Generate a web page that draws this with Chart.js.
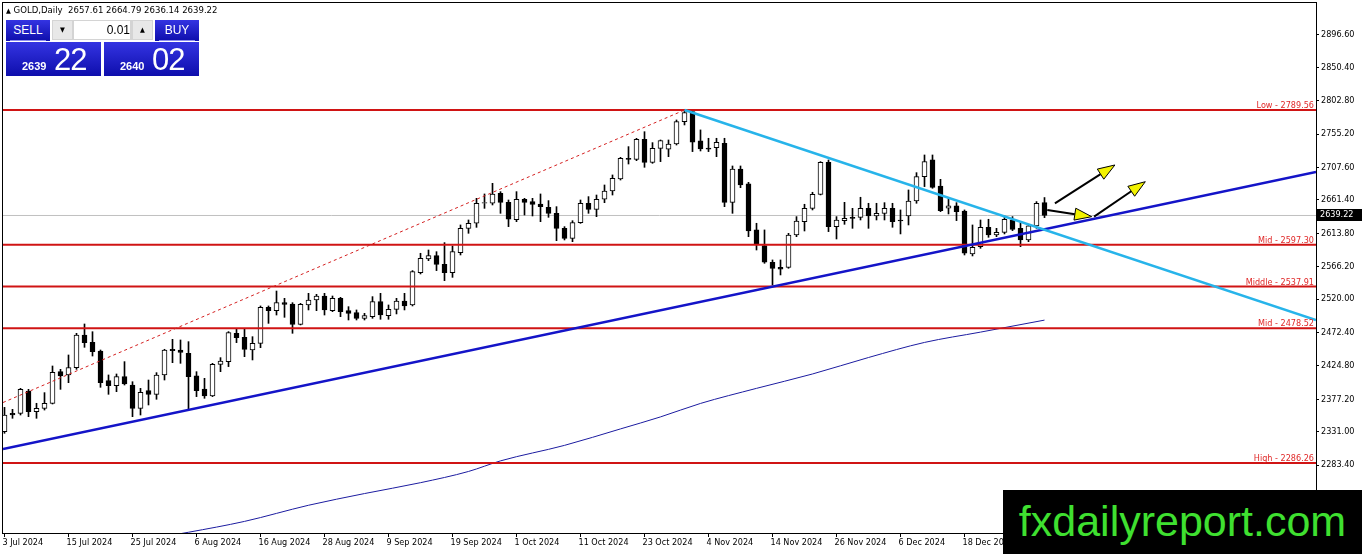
<!DOCTYPE html>
<html>
<head>
<meta charset="utf-8">
<title>GOLD, Daily</title>
<script src="https://cdn.jsdelivr.net/npm/chart.js@4.4.1/dist/chart.umd.min.js"></script>
<style>
  html, body { margin: 0; padding: 0; background: #fff; }
  #wrap { position: relative; width: 1362px; height: 554px; overflow: hidden; }
  #chart { position: absolute; left: 0; top: 0; }
  .ov { position: absolute; font-family: 'DejaVu Sans Condensed', 'DejaVu Sans', sans-serif; }
  #hdr { left: 6px; top: 4px; font-size: 9.5px; color: #000; white-space: pre; line-height: 11px; }
  #hdr .tri { font-size: 7px; }
  .blue { background: linear-gradient(#3434e2, #0e0eac); color: #fff; }
  .btn { top: 20px; height: 21px; width: 44px; text-align: center; font-size: 12px; line-height: 20px;
         font-family: 'Liberation Sans', Arial, sans-serif; }
  .btn:after { content: ''; position: absolute; left: 4px; right: 4px; bottom: 0; height: 1px; background: #8d8df0; }
  #sell { left: 6px; }
  #buy { left: 155px; }
  #spin { left: 52px; top: 20px; width: 101px; height: 20px; background: #d4d4d4; }
  #spin .arr { position: absolute; top: 1px; width: 19px; height: 18px; background: #e8e8e8; font-size: 7px;
               text-align: center; line-height: 18px; color: #000; }
  #spin .lot { position: absolute; left: 22px; top: 1px; width: 56px; height: 18px; background: #fff;
               text-align: right; font-size: 12px; line-height: 18px; color: #000;
               font-family: 'Liberation Sans', Arial, sans-serif; }
  .price { top: 42px; height: 34px; width: 95px; font-family: 'Liberation Sans', Arial, sans-serif; }
  .price .small { position: absolute; left: 16px; bottom: 4px; font-size: 11px; font-weight: bold; }
  .price .big { position: absolute; left: 48px; bottom: -2px; font-size: 31px; letter-spacing: -1px; }
  #psell { left: 6px; }
  #pbuy { left: 104px; }
  #wm { left: 1003px; top: 490px; width: 359px; height: 64px; background: #000; color: #3fe030;
        font-family: 'Liberation Sans', Arial, sans-serif; font-size: 43px; line-height: 62px; text-align: center; }
</style>
</head>
<body>
<div id="wrap">
  <canvas id="chart" width="1362" height="554"></canvas>
  <div id="hdr" class="ov"><span class="tri">▲</span> GOLD,Daily  2657.61 2664.79 2636.14 2639.22</div>
  <div id="sell" class="ov btn blue">SELL</div>
  <div id="spin" class="ov"><div class="arr" style="left:1px">▼</div><div class="lot">0.01</div><div class="arr" style="left:81px">▲</div></div>
  <div id="buy" class="ov btn blue">BUY</div>
  <div id="psell" class="ov price blue"><span class="small">2639</span><span class="big">22</span></div>
  <div id="pbuy" class="ov price blue"><span class="small">2640</span><span class="big">02</span></div>
  <div id="wm" class="ov">fxdailyreport.com</div>
</div>
<script>
'use strict';

// Daily GOLD candles, 3 Jul 2024 onwards (bar index 0 = 3 Jul)

let opens = [
  2331.0, 2357.0, 2357.1, 2388.9, 2359.5, 2364.2, 2371.4, 2416.5, 2411.8, 2422.2,
  2468.8, 2458.3, 2446.0, 2403.7, 2396.5, 2409.4, 2397.5, 2364.2, 2389.4, 2384.2,
  2411.8, 2448.4, 2447.4, 2442.6, 2410.4, 2391.8, 2381.8, 2427.0, 2430.8, 2471.2,
  2465.5, 2447.4, 2456.9, 2508.3, 2503.5, 2514.9, 2513.0, 2484.0, 2511.6, 2518.7,
  2524.4, 2503.5, 2521.1, 2503.5, 2500.7, 2492.6, 2495.0, 2516.3, 2496.4, 2505.4,
  2517.3, 2511.6, 2557.7, 2577.2, 2581.9, 2569.6, 2557.7, 2586.2, 2620.9, 2628.1,
  2656.6, 2656.6, 2670.8, 2658.0, 2633.2, 2662.3, 2658.9, 2655.6, 2650.8, 2642.3,
  2620.9, 2606.6, 2629.0, 2656.6, 2648.0, 2662.3, 2674.1, 2691.3, 2720.7, 2719.3,
  2747.8, 2715.0, 2735.0, 2733.6, 2741.2, 2773.0, 2787.3, 2745.5, 2735.5, 2736.0,
  2742.1, 2658.0, 2705.5, 2684.2, 2618.6, 2596.2, 2572.5, 2565.3, 2565.3, 2611.4,
  2630.4, 2649.4, 2669.4, 2715.0, 2623.3, 2631.9, 2636.6, 2636.6, 2649.5, 2638.5,
  2642.3, 2649.5, 2632.8, 2638.5, 2659.9, 2694.6, 2718.4, 2681.3, 2649.5, 2652.8,
  2645.6, 2584.3, 2594.8, 2622.4, 2611.4, 2615.2, 2632.8, 2620.9, 2604.3, 2624.3,
  2657.61
];
let highs = [
  2365.6, 2362.8, 2392.7, 2391.3, 2371.4, 2386.6, 2424.6, 2419.8, 2440.3, 2471.2,
  2484.5, 2473.5, 2447.4, 2411.8, 2413.2, 2430.8, 2402.2, 2392.7, 2404.6, 2415.1,
  2448.4, 2462.6, 2461.7, 2459.3, 2416.5, 2407.0, 2428.4, 2436.5, 2473.6, 2476.9,
  2478.3, 2466.4, 2510.2, 2510.2, 2531.5, 2521.1, 2514.9, 2513.9, 2528.2, 2526.8,
  2528.2, 2524.4, 2522.5, 2509.2, 2504.5, 2499.7, 2523.5, 2528.2, 2511.6, 2521.1,
  2528.2, 2560.6, 2585.3, 2590.0, 2587.6, 2600.5, 2595.7, 2625.7, 2632.8, 2663.7,
  2669.9, 2685.1, 2673.2, 2661.3, 2673.2, 2663.7, 2663.7, 2669.9, 2660.4, 2651.8,
  2623.3, 2631.8, 2661.3, 2666.1, 2668.4, 2682.7, 2697.0, 2722.1, 2737.4, 2749.2,
  2758.7, 2743.1, 2746.9, 2746.9, 2775.4, 2789.6, 2789.9, 2761.2, 2749.3, 2749.3,
  2749.3, 2709.8, 2709.8, 2686.5, 2628.1, 2618.6, 2575.8, 2575.8, 2613.8, 2637.6,
  2655.2, 2672.3, 2716.0, 2718.4, 2637.6, 2658.0, 2649.4, 2665.2, 2656.6, 2656.6,
  2657.5, 2656.6, 2647.1, 2675.6, 2700.3, 2725.5, 2725.5, 2690.8, 2663.7, 2657.5,
  2647.1, 2625.7, 2632.8, 2633.8, 2620.9, 2638.5, 2637.6, 2629.0, 2625.7, 2659.0,
  2664.79
];
let lows = [
  2328.6, 2350.0, 2354.7, 2352.3, 2350.0, 2361.8, 2370.4, 2391.3, 2400.8, 2419.8,
  2451.2, 2438.8, 2394.2, 2384.2, 2388.0, 2397.5, 2352.3, 2354.7, 2369.0, 2377.1,
  2404.6, 2429.3, 2428.4, 2363.5, 2380.9, 2378.5, 2380.9, 2416.5, 2423.7, 2457.9,
  2437.9, 2433.2, 2450.7, 2485.4, 2497.3, 2494.0, 2471.2, 2483.1, 2504.5, 2503.5,
  2497.3, 2502.1, 2494.9, 2490.2, 2490.2, 2490.2, 2492.6, 2491.2, 2491.2, 2498.8,
  2504.5, 2510.2, 2555.8, 2574.8, 2560.6, 2546.3, 2551.0, 2582.9, 2613.8, 2622.3,
  2649.4, 2654.2, 2642.3, 2623.3, 2630.4, 2639.9, 2638.5, 2630.4, 2636.6, 2603.3,
  2604.3, 2601.9, 2628.0, 2642.3, 2637.5, 2657.5, 2668.4, 2689.8, 2712.6, 2717.4,
  2707.9, 2713.6, 2716.0, 2723.1, 2739.7, 2768.3, 2730.3, 2731.2, 2730.3, 2723.1,
  2651.8, 2642.3, 2678.9, 2609.0, 2590.0, 2571.0, 2540.1, 2554.4, 2563.9, 2609.0,
  2617.1, 2647.1, 2668.5, 2616.2, 2605.7, 2626.6, 2620.9, 2632.8, 2620.9, 2632.8,
  2632.8, 2622.4, 2612.9, 2625.7, 2656.6, 2680.4, 2678.0, 2644.7, 2641.4, 2631.9,
  2582.9, 2581.5, 2592.4, 2608.1, 2609.0, 2612.9, 2617.6, 2594.8, 2601.9, 2620.9,
  2636.14
];
let closes = [
  2354.7, 2355.0, 2391.3, 2359.5, 2364.2, 2371.4, 2415.6, 2410.3, 2422.2, 2468.8,
  2457.9, 2445.0, 2400.8, 2396.5, 2409.4, 2398.9, 2364.2, 2387.0, 2384.2, 2411.8,
  2447.4, 2446.4, 2444.1, 2409.4, 2389.4, 2381.8, 2427.0, 2431.7, 2472.1, 2465.0,
  2448.4, 2456.9, 2508.3, 2503.5, 2514.9, 2512.5, 2484.0, 2512.5, 2518.7, 2524.4,
  2504.5, 2521.1, 2502.1, 2499.7, 2492.6, 2496.4, 2516.3, 2497.3, 2505.4, 2517.3,
  2510.2, 2559.1, 2578.1, 2581.9, 2569.6, 2557.7, 2587.6, 2620.9, 2628.1, 2656.6,
  2657.5, 2669.9, 2658.0, 2633.8, 2662.3, 2658.0, 2655.1, 2651.8, 2642.3, 2620.9,
  2606.6, 2629.0, 2656.6, 2648.0, 2662.3, 2674.1, 2692.2, 2720.7, 2719.3, 2747.8,
  2715.0, 2735.0, 2745.9, 2741.2, 2773.0, 2785.8, 2743.6, 2734.1, 2733.8, 2743.6,
  2658.0, 2705.5, 2682.7, 2617.1, 2598.1, 2572.5, 2563.9, 2562.5, 2611.4, 2631.4,
  2649.4, 2669.4, 2715.0, 2623.3, 2632.8, 2635.2, 2635.2, 2649.5, 2638.5, 2642.3,
  2649.5, 2630.4, 2631.4, 2659.9, 2694.6, 2716.0, 2679.4, 2646.1, 2652.8, 2644.7,
  2585.3, 2593.8, 2622.4, 2611.4, 2615.2, 2633.8, 2619.5, 2604.3, 2624.3, 2656.6,
  2639.22
];

// axis ticks
let xTickIdx = [0, 8, 16, 24, 32, 40, 48, 56, 64, 72, 80, 88, 96, 104, 112, 120];
let xTickLabels = ['3 Jul 2024', '15 Jul 2024', '25 Jul 2024', '6 Aug 2024', '16 Aug 2024', '28 Aug 2024',
  '9 Sep 2024', '19 Sep 2024', '1 Oct 2024', '11 Oct 2024', '23 Oct 2024', '4 Nov 2024',
  '14 Nov 2024', '26 Nov 2024', '6 Dec 2024', '18 Dec 2024'];
let yTickValues = [2283.40, 2331.00, 2377.20, 2424.80, 2472.40, 2520.00, 2566.20,
  2613.80, 2661.40, 2707.60, 2755.20, 2802.80, 2850.40, 2896.60];

// horizontal levels
let levelNames = ['Low', 'Mid', 'Middle', 'Mid', 'High'];
let levelValues = [2789.56, 2597.30, 2537.91, 2478.52, 2286.26];
let bidPrice = 2639.22;

// view range (bar index / price)
let xMin = -0.1875;
let xMax = 163.9375;
let yMin = 2186.45;
let yMax = 2942.2;

// trend lines, [bar index, price] pairs
let supportLine = [[-0.1875, 2306.2], [163.9375, 2701.2]];
let resistLine = [[85, 2789.56], [163.9375, 2490.2]];
let channelLine = [[-0.1875, 2372.5], [85, 2789.56]];

// moving average
let maIdx = [21, 23, 30, 38, 45, 52, 58, 62, 70, 77, 82, 87, 94, 101, 108, 115, 122, 130];
let maValues = [2183.5, 2187.5, 2203.0, 2226.0, 2242.7, 2258.2, 2274.2, 2289.3, 2311.4, 2334.9,
  2352.0, 2371.2, 2392.7, 2413.2, 2436.7, 2458.2, 2472.9, 2490.0];

// arrows: from [idx, price] to [idx, price]
let arrowFrom = [[131.3, 2656.6], [130.35, 2647.0], [136.2, 2637.5]];
let arrowTo = [[138.8, 2711.2], [135.9, 2637.5], [142.6, 2687.4]];

const FONT = "'DejaVu Sans Condensed', 'DejaVu Sans', sans-serif";
const RED = '#d01414';

function segment(pair) {
  return pair.map(p => ({ x: p[0], y: p[1] }));
}

let wickData = [];
let bodyData = [];
let bodyColors = [];
for (let i = 0; i < opens.length; i++) {
  wickData.push({ x: i, y: [lows[i], highs[i]] });
  bodyData.push({ x: i, y: [opens[i], closes[i]] });
  bodyColors.push(closes[i] >= opens[i] ? '#ffffff' : '#000000');
}

let datasets = [];

datasets.push({
  type: 'line', data: [{ x: xMin, y: bidPrice }, { x: xMax, y: bidPrice }],
  borderColor: '#c0c0c0', borderWidth: 1, pointRadius: 0, order: 10
});
datasets.push({
  type: 'bar', data: wickData, backgroundColor: '#000', borderWidth: 0,
  barThickness: 1, grouped: false, order: 6
});
datasets.push({
  type: 'bar', data: bodyData, backgroundColor: bodyColors, borderColor: '#000', borderWidth: 1,
  borderSkipped: false, barThickness: 5, grouped: false, order: 5
});
datasets.push({
  type: 'line', data: maIdx.map((v, i) => ({ x: v, y: maValues[i] })),
  borderColor: '#1c1ca0', borderWidth: 1, pointRadius: 0, cubicInterpolationMode: 'monotone', order: 4
});
for (let i = 0; i < levelValues.length; i++) {
  datasets.push({
    type: 'line', data: [{ x: xMin, y: levelValues[i] }, { x: xMax, y: levelValues[i] }],
    borderColor: RED, borderWidth: 2, pointRadius: 0, order: 3
  });
}
datasets.push({
  type: 'line', data: segment(channelLine), borderColor: '#d42020', borderWidth: 1,
  borderDash: [3, 3], pointRadius: 0, order: 2
});
datasets.push({
  type: 'line', data: segment(resistLine), borderColor: '#27b4ea', borderWidth: 2.5, pointRadius: 0, order: 1
});
datasets.push({
  type: 'line', data: segment(supportLine), borderColor: '#1414c8', borderWidth: 2.5, pointRadius: 0, order: 1
});

// frame, level captions, bid marker, arrows
const overlayPlugin = {
  id: 'overlay',
  afterDraw(chart) {
    const ctx = chart.ctx;
    const a = chart.chartArea;
    const xs = chart.scales.x;
    const ys = chart.scales.y;
    ctx.save();

    ctx.strokeStyle = '#000';
    ctx.lineWidth = 1;
    ctx.strokeRect(a.left - 0.5, a.top - 0.5, a.right - a.left + 1, a.bottom - a.top + 1);

    ctx.font = '9px ' + FONT;
    ctx.fillStyle = '#e02828';
    ctx.textAlign = 'right';
    ctx.textBaseline = 'alphabetic';
    for (let i = 0; i < levelValues.length; i++) {
      const y = ys.getPixelForValue(levelValues[i]);
      ctx.fillText(levelNames[i] + ' - ' + levelValues[i].toFixed(2), a.right - 2, y - 2);
    }

    const by = Math.round(ys.getPixelForValue(bidPrice));
    ctx.fillStyle = '#000';
    ctx.fillRect(a.right + 1, by - 6, 45, 12);
    ctx.fillStyle = '#fff';
    ctx.textAlign = 'left';
    ctx.textBaseline = 'middle';
    ctx.fillText(bidPrice.toFixed(2), a.right + 4, by);

    for (let i = 0; i < arrowFrom.length; i++) {
      const x1 = xs.getPixelForValue(arrowFrom[i][0]);
      const y1 = ys.getPixelForValue(arrowFrom[i][1]);
      const x2 = xs.getPixelForValue(arrowTo[i][0]);
      const y2 = ys.getPixelForValue(arrowTo[i][1]);
      const ang = Math.atan2(y2 - y1, x2 - x1);
      const len = 17;
      const half = 6;
      const bx = x2 - Math.cos(ang) * len;
      const by2 = y2 - Math.sin(ang) * len;
      ctx.strokeStyle = '#000';
      ctx.lineWidth = 2;
      ctx.beginPath();
      ctx.moveTo(x1, y1);
      ctx.lineTo(bx, by2);
      ctx.stroke();
      ctx.beginPath();
      ctx.moveTo(x2, y2);
      ctx.lineTo(bx - Math.sin(ang) * half, by2 + Math.cos(ang) * half);
      ctx.lineTo(bx + Math.sin(ang) * half, by2 - Math.cos(ang) * half);
      ctx.closePath();
      ctx.fillStyle = '#f2f200';
      ctx.fill();
      ctx.lineWidth = 1;
      ctx.stroke();
    }
    ctx.restore();
  }
};

let ctx = document.getElementById('chart').getContext('2d');
const goldChart = new Chart(ctx, {
  data: { datasets: datasets },
  options: {
    responsive: false,
    animation: false,
    events: [],
    layout: { padding: { left: 3, top: 3, right: 0, bottom: 0 } },
    plugins: { legend: { display: false }, tooltip: { enabled: false } },
    scales: {
      x: {
        type: 'linear', min: xMin, max: xMax, offset: false,
        grid: { drawOnChartArea: false, drawTicks: true, tickLength: 4, color: '#000', offset: false },
        border: { display: true, color: '#000' },
        afterBuildTicks: (scale) => { scale.ticks = xTickIdx.map(v => ({ value: v })); },
        afterFit: (scale) => {
          scale.height = 21;
          scale.paddingLeft = 0;
          scale.paddingRight = 0;
        },
        ticks: {
          autoSkip: false, maxRotation: 0, align: 'start', labelOffset: -2, padding: 0,
          color: '#000', font: { family: FONT, size: 9 },
          callback: (v) => xTickLabels[xTickIdx.indexOf(v)]
        }
      },
      y: {
        type: 'linear', position: 'right', min: yMin, max: yMax,
        grid: { drawOnChartArea: false, drawTicks: true, tickLength: 3, color: '#000' },
        border: { display: true, color: '#000' },
        afterBuildTicks: (scale) => { scale.ticks = yTickValues.map(v => ({ value: v })); },
        afterFit: (scale) => {
          scale.width = 46;
          scale.paddingTop = 0;
          scale.paddingBottom = 0;
        },
        ticks: {
          padding: 2, color: '#000', font: { family: FONT, size: 9 },
          callback: (v) => v.toFixed(2)
        }
      }
    }
  },
  plugins: [overlayPlugin]
});
</script>
</body>
</html>
